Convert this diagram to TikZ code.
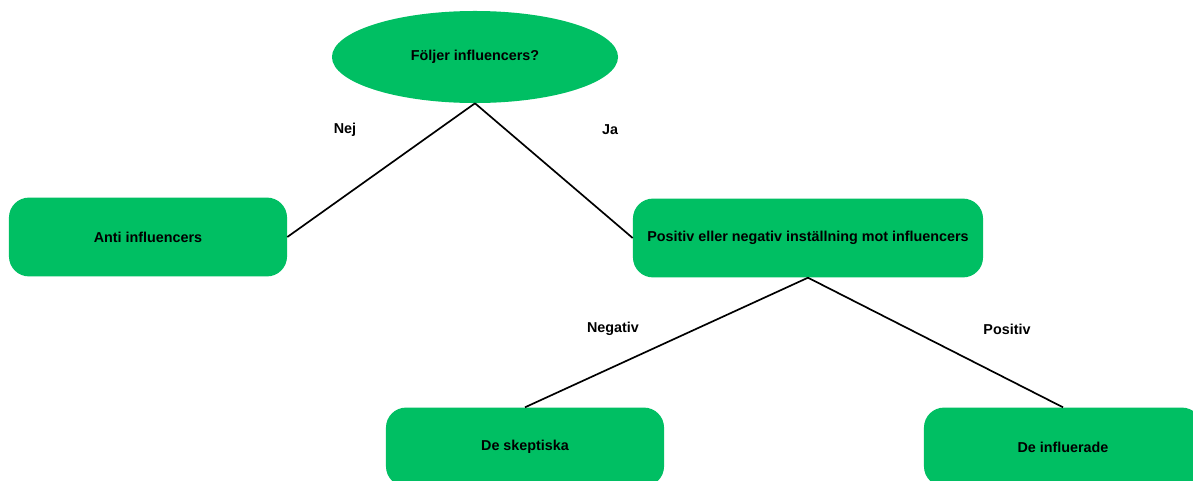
\documentclass[tikz,border=0pt]{standalone}
\usepackage{fontspec}
\setmainfont{Liberation Sans}
\usetikzlibrary{shapes.geometric}
\definecolor{leafGreen}{HTML}{00BF63}

\begin{document}
\begin{tikzpicture}[
    x=0.025cm, y=-0.025cm,
    % Rounded boxes: green fill, no outline
    boxStyle/.style={
        rectangle, rounded corners=0.5cm,
        fill=leafGreen,
        minimum width=6.95cm, minimum height=1.97cm,
        align=center,
        font=\fontsize{10.2}{12}\selectfont\bfseries
    },
    % Question node: green ellipse
    questionStyle/.style={
        ellipse, fill=leafGreen,
        minimum width=7.15cm, minimum height=2.3cm,
        inner sep=0pt,
        font=\fontsize{10.2}{12}\selectfont\bfseries
    },
    % Plain edge labels
    labelStyle/.style={
        font=\fontsize{10.2}{12}\selectfont\bfseries
    },
    edgeStyle/.style={line width=1.2pt}
]
\useasboundingbox (0,0) rectangle (1193,481);

%--- Top node ---
\node[questionStyle] (question)  at (475,57)   {Följer influencers?};

%--- Middle row ---
\node[boxStyle] (anti)       at (148,237)  {Anti influencers};
\node[boxStyle, minimum width=8.75cm] (attitude) at (808,238)
    {Positiv eller negativ inställning mot influencers};

%--- Bottom row ---
\node[boxStyle] (skeptical)  at (525,447)  {De skeptiska};
\node[boxStyle] (influenced) at (1063,447) {De influerade};

%-----------------------
%        Edges
%-----------------------
\draw[edgeStyle] (question.south) -- (anti.east);
\draw[edgeStyle] (question.south) -- (attitude.west);
\draw[edgeStyle] (attitude.south) -- (skeptical.north);
\draw[edgeStyle] (attitude.south) -- (influenced.north);

%--- Edge labels ---
\node[labelStyle] (noLabel)  at (345,130) {Nej};
\node[labelStyle] (yesLabel) at (610,130) {Ja};
\node[labelStyle] (negLabel) at (613,329) {Negativ};
\node[labelStyle] (posLabel) at (1007,329) {Positiv};
\end{tikzpicture}
\end{document}
